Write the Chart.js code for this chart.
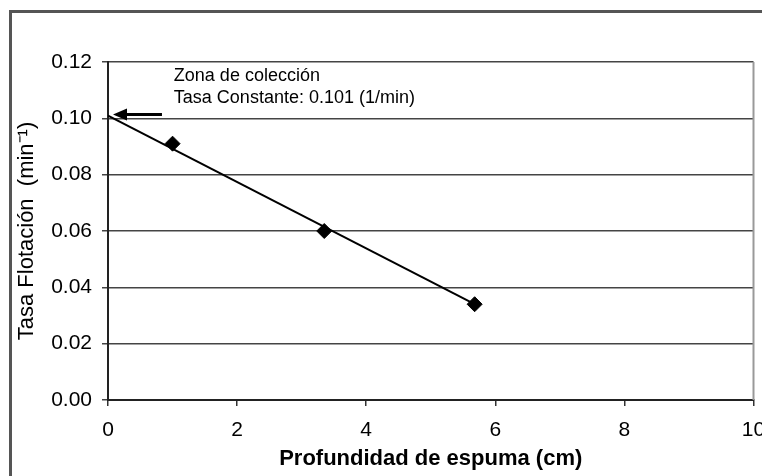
<!DOCTYPE html>
<html>
<head>
<meta charset="utf-8">
<script src="https://cdn.jsdelivr.net/npm/chart.js@4/dist/chart.umd.min.js"></script>
<style>
  html, body { margin: 0; padding: 0; background: #fff; }
  canvas { display: block; }
</style>
</head>
<body>
<canvas id="c" width="762" height="476"></canvas>
<script>
// Froth depth (cm) and measured flotation rate (1/min)
const depthCm = [1.0, 3.35, 5.68];
const flotationRate = [0.091, 0.060, 0.034];

// Linear trend: starts at the collection-zone rate at zero depth
const rateConstant = 0.101;
const trendDepth = [0, 5.68];
const trendRate = [rateConstant, 0.034];

// Axis ticks
const xTicks = [0, 2, 4, 6, 8, 10];
const yTicks = [0.00, 0.02, 0.04, 0.06, 0.08, 0.10, 0.12];

// Annotation text
const noteLines = ['Zona de colección', 'Tasa Constante: ' + rateConstant.toFixed(3) + ' (1/min)'];

const FONT = '"Liberation Sans", Arial, sans-serif';

const frameAndNotes = {
  id: 'frameAndNotes',
  beforeDraw(chart) {
    const ctx = chart.ctx;
    ctx.save();
    ctx.fillStyle = '#fff';
    ctx.fillRect(0, 0, chart.width, chart.height);
    // outer frame (top and left edges)
    ctx.strokeStyle = '#555';
    ctx.lineWidth = 3;
    ctx.beginPath();
    ctx.moveTo(10.5, chart.height);
    ctx.lineTo(10.5, 11.5);
    ctx.lineTo(chart.width, 11.5);
    ctx.stroke();
    ctx.restore();
  },
  afterDatasetsDraw(chart) {
    const ctx = chart.ctx;
    const xs = chart.scales.x, ys = chart.scales.y;
    const a = chart.chartArea;
    ctx.save();
    // right edge of plot area
    ctx.strokeStyle = '#999';
    ctx.lineWidth = 2;
    ctx.beginPath();
    ctx.moveTo(a.right, a.top);
    ctx.lineTo(a.right, a.bottom);
    ctx.stroke();

    // note text
    ctx.fillStyle = '#000';
    ctx.font = '18px ' + FONT;
    ctx.textAlign = 'left';
    ctx.textBaseline = 'alphabetic';
    const tx = xs.getPixelForValue(1.02);
    ctx.fillText(noteLines[0], tx, ys.getPixelForValue(0.1133));
    ctx.fillText(noteLines[1], tx, ys.getPixelForValue(0.1055));

    // arrow pointing at the rate constant on the axis
    const ay = ys.getPixelForValue(rateConstant) - 1;
    const tipX = xs.getPixelForValue(0.077);
    const tailX = xs.getPixelForValue(0.836);
    ctx.strokeStyle = '#000';
    ctx.lineWidth = 3;
    ctx.beginPath();
    ctx.moveTo(tailX, ay);
    ctx.lineTo(tipX + 10, ay);
    ctx.stroke();
    ctx.fillStyle = '#000';
    ctx.beginPath();
    ctx.moveTo(tipX, ay);
    ctx.lineTo(tipX + 14, ay - 6);
    ctx.lineTo(tipX + 14, ay + 6);
    ctx.closePath();
    ctx.fill();
    ctx.restore();
  }
};

new Chart(document.getElementById('c'), {
  type: 'scatter',
  data: {
    datasets: [
      {
        label: 'Datos',
        data: depthCm.map((x, i) => ({ x, y: flotationRate[i] })),
        pointStyle: 'rectRot',
        pointRadius: 7.5,
        backgroundColor: '#000',
        borderColor: '#000',
        borderWidth: 1,
        order: 0
      },
      {
        label: 'Tendencia',
        data: trendDepth.map((x, i) => ({ x, y: trendRate[i] })),
        showLine: true,
        pointRadius: 0,
        borderColor: '#000',
        borderWidth: 2,
        order: 1
      }
    ]
  },
  options: {
    responsive: false,
    devicePixelRatio: 1,
    animation: false,
    events: [],
    layout: { padding: { left: 0, top: 62, right: 8, bottom: 0 } },
    plugins: { legend: { display: false }, tooltip: { enabled: false } },
    scales: {
      x: {
        type: 'linear',
        min: 0, max: 10,
        afterBuildTicks(s) { s.ticks = xTicks.map(v => ({ value: v })); },
        afterFit(s) { s.height = 76; s.paddingLeft = 0; s.paddingRight = 0; },
        grid: { drawOnChartArea: false, color: '#333', lineWidth: 1.5, tickLength: 6 },
        border: { display: true, color: '#222', width: 2 },
        ticks: {
          padding: 12,
          color: '#000',
          font: { family: FONT, size: 21 },
          maxRotation: 0,
          callback: v => String(v)
        },
        title: {
          display: true,
          text: 'Profundidad de espuma (cm)',
          color: '#000',
          font: { family: FONT, size: 22, weight: 'bold' },
          padding: { top: 0, bottom: 4 }
        }
      },
      y: {
        min: 0, max: 0.12,
        afterBuildTicks(s) { s.ticks = yTicks.map(v => ({ value: v })); },
        afterFit(s) { s.width = 108; s.paddingTop = 0; s.paddingBottom = 0; },
        grid: { color: '#444', lineWidth: 1.5, tickLength: 6 },
        border: { display: true, color: '#222', width: 2 },
        ticks: {
          padding: 10,
          color: '#000',
          font: { family: FONT, size: 21 },
          callback: v => Number(v).toFixed(2)
        },
        title: {
          display: true,
          text: 'Tasa Flotación  (min⁻¹)',
          color: '#000',
          font: { family: FONT, size: 22 },
          padding: { top: 14, bottom: 0 }
        }
      }
    }
  },
  plugins: [frameAndNotes]
});
</script>
</body>
</html>
